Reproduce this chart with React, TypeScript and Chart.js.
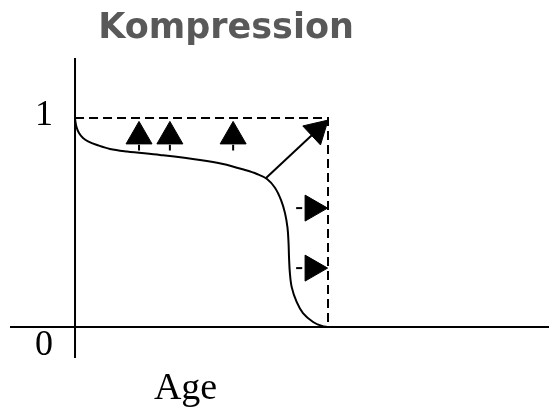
import React, { useEffect, useRef } from "react";
import { Chart, registerables } from "chart.js";

Chart.register(...registerables);

// ---- text ----
const titleText = "Kompression";
const xAxisTitle = "Age";
const yTickLabels = ["0", "1"];
const yTickValues = [0, 1];

// ---- survival curve (age vs. share surviving) ----
const curveAge = [0, 0.59, 1.58, 3.16, 5.14, 8.7, 13.83, 20.55, 33.6, 49.4, 58.5, 67.2, 71.9, 75.9, 79.1, 81.4, 83.0, 84.0, 84.4, 84.6, 84.9, 85.65, 87.6, 90.1, 94.1, 97.6, 100.0];
const curveSurvival = [0.995, 0.957, 0.928, 0.904, 0.888, 0.871, 0.852, 0.84, 0.823, 0.799, 0.78, 0.751, 0.732, 0.708, 0.665, 0.608, 0.545, 0.474, 0.402, 0.33, 0.263, 0.191, 0.12, 0.067, 0.024, 0.005, 0];

// ---- rectangular (fully compressed) boundary ----
const boundaryAge = [0, 100, 100];
const boundarySurvival = [1, 1, 0];

// ---- arrows ----
const upArrowAge = [25.3, 37.5, 62.5];
const upArrowHeadSurvival = 0.912;
const upArrowStemSurvival = [0.872, 0.845];
const rightArrowSurvival = [0.569, 0.282];
const rightArrowHeadAge = 93.9;
const rightArrowStemAge = [87.4, 89.8];
const diagArrowStart = [75.5, 0.713];
const diagArrowHead = [95.7, 0.941];
const diagArrowRotation = 47;

// ---- axes extents ----
const xRange = [-25.7, 187.35];
const yRange = [-0.148, 1.287];

const textPlugin = {
  id: "textLabels",
  afterDatasetsDraw(chart: any) {
    const { ctx, scales } = chart;
    const xs = scales.x;
    const ys = scales.y;
    ctx.save();
    ctx.fillStyle = "#595959";
    ctx.font = "bold 35px 'DejaVu Sans'";
    ctx.textAlign = "center";
    ctx.textBaseline = "alphabetic";
    ctx.fillText(titleText, 226, 37.5);

    ctx.fillStyle = "#000";
    ctx.font = "36px 'Liberation Serif'";
    const tickBaselineShift = [-0.134, -0.034];
    yTickLabels.forEach((lbl, i) => {
      ctx.fillText(lbl, xs.getPixelForValue(-12.3), ys.getPixelForValue(yTickValues[i] + tickBaselineShift[i]));
    });
    ctx.font = "38px 'Liberation Serif'";
    ctx.fillText(xAxisTitle, xs.getPixelForValue(43.7), ys.getPixelForValue(-0.344));
    ctx.restore();
  },
};

function lineDs(points: { x: number; y: number }[], extra: any = {}) {
  return {
    type: "scatter",
    data: points,
    showLine: true,
    borderColor: "#000",
    borderWidth: 2,
    pointRadius: 0,
    fill: false,
    clip: false,
    ...extra,
  };
}

export default function App() {
  const ref = useRef<HTMLCanvasElement | null>(null);
  useEffect(() => {
    if (!ref.current) return;
    const datasets: any[] = [];
    // axes
    datasets.push(lineDs([{ x: 0, y: yRange[0] }, { x: 0, y: yRange[1] }]));
    datasets.push(lineDs([{ x: xRange[0], y: 0 }, { x: xRange[1], y: 0 }]));
    // boundary
    datasets.push(
      lineDs(boundaryAge.map((a, i) => ({ x: a, y: boundarySurvival[i] })), { borderDash: [9, 5] })
    );
    // curve
    datasets.push(
      lineDs(curveAge.map((a, i) => ({ x: a, y: curveSurvival[i] })), { tension: 0.35 })
    );
    // up arrow stems
    upArrowAge.forEach((a) => {
      datasets.push(lineDs([{ x: a, y: upArrowStemSurvival[0] }, { x: a, y: upArrowStemSurvival[1] }]));
    });
    // right arrow stems
    rightArrowSurvival.forEach((s) => {
      datasets.push(lineDs([{ x: rightArrowStemAge[0], y: s }, { x: rightArrowStemAge[1], y: s }]));
    });
    // diagonal arrow shaft
    datasets.push(
      lineDs([
        { x: diagArrowStart[0], y: diagArrowStart[1] },
        { x: diagArrowHead[0], y: diagArrowHead[1] },
      ])
    );
    const head = (pts: { x: number; y: number }[], rot: number) => ({
      type: "scatter",
      data: pts,
      showLine: false,
      pointStyle: "triangle",
      pointRadius: 15,
      pointRotation: rot,
      pointBackgroundColor: "#000",
      pointBorderColor: "#000",
      pointBorderWidth: 1,
      clip: false,
    });
    datasets.push(head(upArrowAge.map((a) => ({ x: a, y: upArrowHeadSurvival })), 0));
    datasets.push(head(rightArrowSurvival.map((s) => ({ x: rightArrowHeadAge, y: s })), 90));
    datasets.push(head([{ x: diagArrowHead[0], y: diagArrowHead[1] }], diagArrowRotation));

    const chart = new Chart(ref.current, {
      type: "scatter",
      data: { datasets },
      options: {
        animation: false,
        responsive: false,
        events: [],
        layout: { autoPadding: false, padding: { left: 10, right: 0, top: 58, bottom: 50 } },
        plugins: { legend: { display: false }, title: { display: false }, tooltip: { enabled: false } },
        scales: {
          x: { type: "linear", display: false, min: xRange[0], max: xRange[1] },
          y: { type: "linear", display: false, min: yRange[0], max: yRange[1] },
        },
      } as any,
      plugins: [textPlugin],
    } as any);
    return () => chart.destroy();
  }, []);
  return (
    <div style={{ position: "absolute", left: 0, top: 0, width: 549, height: 408, background: "#fff" }}>
      <canvas ref={ref} width={549} height={408} style={{ display: "block" }} />
    </div>
  );
}
